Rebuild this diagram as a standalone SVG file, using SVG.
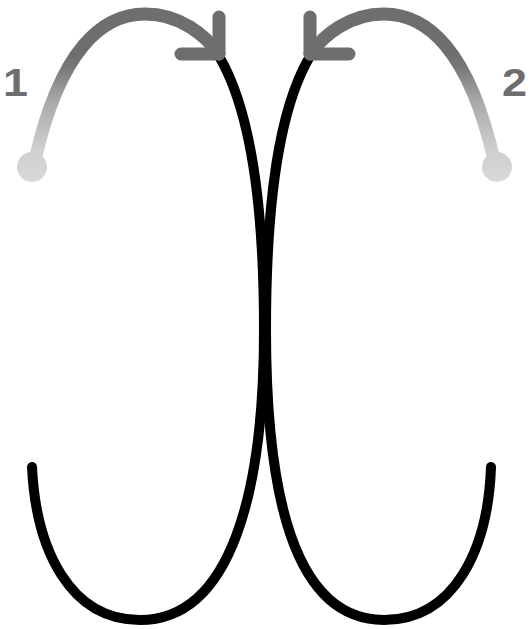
<svg xmlns="http://www.w3.org/2000/svg" width="530" height="629" viewBox="0 0 530 629">
<style>
.stroke{fill:none;stroke:#000;stroke-width:10;stroke-linecap:round;stroke-linejoin:round}
.arc{fill:none;stroke:url(#g);stroke-width:13;stroke-linecap:round;stroke-linejoin:round}
.head{fill:none;stroke:#6e6e6e;stroke-width:13;stroke-linecap:round;stroke-linejoin:round}
.dot{fill:url(#g)}
.lbl{font-family:"Liberation Sans",Arial,sans-serif;font-weight:bold;font-size:39px;fill:#6e6e6e;text-anchor:middle}
</style>
<defs>
<linearGradient id="g" gradientUnits="userSpaceOnUse" x1="0" y1="185" x2="0" y2="50">
<stop offset="0" stop-color="#dadada"/>
<stop offset="0.26" stop-color="#cfcfcf"/>
<stop offset="0.63" stop-color="#a8a8a8"/>
<stop offset="0.87" stop-color="#787878"/>
<stop offset="0.96" stop-color="#6e6e6e"/>
<stop offset="1" stop-color="#6e6e6e"/>
</linearGradient>
</defs>
<g id="connectors">
<path class="stroke" d="M220,58 C250,110 264,200 264,330 C264,490 232,620 140,620 C70,620 36,550 32,467"/>
<path class="stroke" d="M309,58 C279,110 266,200 266,330 C266,490 292,620 384,620 C454,620 488,550 491,467"/>
</g>
<g id="arrow1">
<circle class="dot" cx="32" cy="167" r="15"/>
<path class="arc" d="M35,160 C60,50 102,14 145,14 C180,14 205,35 219,54"/>
<path class="head" d="M219,17 L219,54 L181,54"/>
<text class="lbl" transform="translate(15.5,96) scale(1.15,1)">1</text>
</g>
<g id="arrow2">
<circle class="dot" cx="497" cy="167" r="15"/>
<path class="arc" d="M494,160 C469,50 427,14 384,14 C349,14 324,35 310,54"/>
<path class="head" d="M310,17 L310,54 L349,54"/>
<text class="lbl" transform="translate(514.5,96) scale(1.15,1)">2</text>
</g>
</svg>
